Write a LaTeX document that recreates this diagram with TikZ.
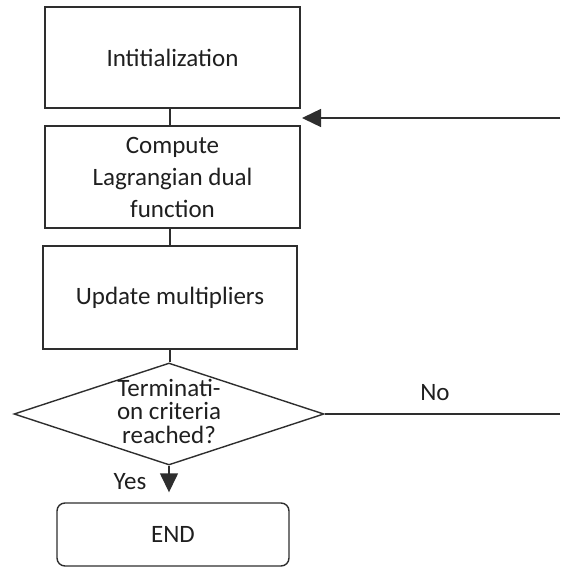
\documentclass[tikz,border=0pt]{standalone}
\usepackage{fontspec}
\setmainfont{Carlito}
\usetikzlibrary{shapes.geometric,arrows.meta}
\definecolor{ink}{HTML}{1F1F1F}
\definecolor{edge}{HTML}{2E2E2E}
\begin{document}
\begin{tikzpicture}[x=1pt,y=-1pt,
  every node/.style={text=ink},
  procbox/.style={draw=edge, line width=1.4pt, rectangle, inner sep=0pt,
    align=center, font=\fontsize{25}{32}\selectfont},
  termbox/.style={draw=edge, line width=1.4pt, rectangle, rounded corners=8pt,
    inner sep=0pt, align=center, font=\fontsize{25}{32}\selectfont},
  decision/.style={draw=edge, line width=1.4pt, diamond, inner sep=0pt},
  plain/.style={draw=edge, line width=1.4pt},
  flow/.style={draw=edge, line width=1.4pt, -{Triangle[length=19pt,width=18pt]}},
  lbl/.style={font=\fontsize{25}{30}\selectfont, inner sep=0pt, anchor=base}]
  \useasboundingbox (0,0) rectangle (560,568);

  % process steps
  \node[procbox, minimum width=255pt, minimum height=101pt] (init) at (172.5,57.5) {Intitialization};
  \node[procbox, minimum width=255pt, minimum height=102pt] (comp) at (172.5,177) {Compute\\Lagrangian dual\\function};
  \node[procbox, minimum width=254pt, minimum height=103pt] (upd) at (170,297.5) {Update multipliers};

  % termination test
  \node[decision, minimum width=310pt, minimum height=102pt] (dec) at (169,414) {};
  \node[align=center, inner sep=0pt, font=\fontsize{25}{23.5}\selectfont] (dectext) at (169,411) {Terminati-\\on criteria\\reached?};

  % final step
  \node[termbox, minimum width=232pt, minimum height=63pt] (end) at (173,534.5) {END};

  % loop-back ends at the right border
  \coordinate (noend) at (560,414);
  \coordinate (backstart) at (560,118);
  \coordinate (backtip) at (302,118);

  % connectors (kept vertical on the column of the lower steps)
  \draw[plain] (upd.north |- init.south) -- (upd.north |- comp.north);
  \draw[plain] (upd.north |- comp.south) -- (upd.north);
  \draw[plain] (upd.south) -- (upd.south |- dec.north);
  \draw[plain] (dec.east) -- (noend);
  \draw[flow] (backstart) -- (backtip);
  \draw[flow, shorten >=10pt] (dec.south) -- (dec.south |- end.north);

  % branch labels
  \node[lbl] (nolbl) at (435,400) {No};
  \node[lbl] (yeslbl) at (130,489) {Yes};
\end{tikzpicture}
\end{document}
